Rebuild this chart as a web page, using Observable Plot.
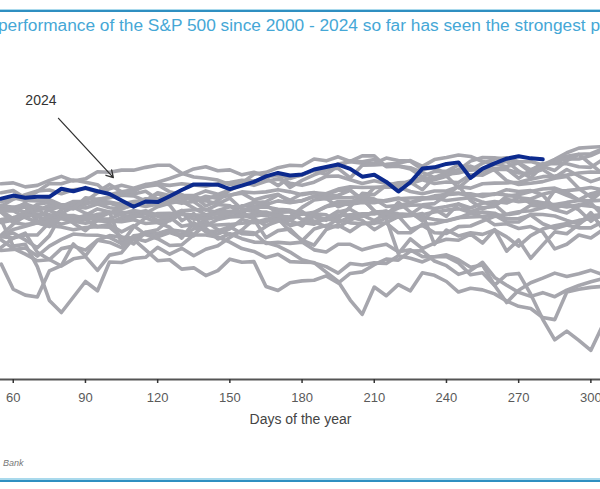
<!DOCTYPE html>
<html>
<head>
<meta charset="utf-8">
<script src="https://cdn.jsdelivr.net/npm/d3@7"></script>
<script src="https://cdn.jsdelivr.net/npm/@observablehq/plot@0.6"></script>
<style>
  html, body { margin: 0; padding: 0; background: #fff; }
  #page { position: relative; width: 600px; height: 489px; overflow: hidden; background: #fff; font-family: "Liberation Sans", Arial, sans-serif; }
  #ruleTop1 { position: absolute; left: 0; top: 9px; width: 600px; height: 1px; background: #a9d9ec; }
  #ruleTop2 { position: absolute; left: 0; top: 10px; width: 600px; height: 2px; background: #2f8fc1; }
  #title { position: absolute; left: -2px; top: 17px; white-space: nowrap; font-size: 17.3px; line-height: 17.3px; color: #45a7d6; }
  #chart { position: absolute; left: 0; top: 40px; }
  #source { position: absolute; left: 3px; top: 459px; font-size: 9px; font-style: italic; color: #777; line-height: 9px; }
  #ruleBot1 { position: absolute; left: 0; top: 478px; width: 600px; height: 2px; background: #a9d9ec; }
  #ruleBot2 { position: absolute; left: 0; top: 480px; width: 600px; height: 2px; background: #2f8fc1; }
</style>
</head>
<body>
<div id="page">
  <div id="ruleTop1"></div>
  <div id="ruleTop2"></div>
  <div id="title">performance of the S&amp;P 500 since 2000 - 2024 so far has seen the strongest p</div>
  <div id="chart"></div>
  <div id="source">Bank</div>
  <div id="ruleBot1"></div>
  <div id="ruleBot2"></div>
</div>
<script>
// Day of the year (sampled every 5 days)
const days = [55,60,65,70,75,80,85,90,95,100,105,110,115,120,125,130,135,140,145,150,155,160,165,170,175,180,185,190,195,200,205,210,215,220,225,230,235,240,245,250,255,260,265,270,275,280,285,290,295,300,305];
const xTicks = [60,90,120,150,180,210,240,270,300];
const xDomain = [54.7, 304];
const yDomain = [-51.6, 57.7];
const years = [2000,2001,2002,2003,2004,2005,2006,2007,2008,2009,2010,2011,2012,2013,2014,2015,2016,2017,2018,2019,2020,2021,2022,2023];

// YTD performance (%) per year
const y2000 = [-9,-6,-5,-5,-1,2,4,2,1,2.4,-7.7,-2.4,0.5,-1,-2.5,-6,-1,-4,-4.7,-3,0,-1,0,1,-2,-1,-1.5,0.4,2.7,0.8,-0.3,-3.3,-1,0.9,1.5,1.5,2.4,3,3.5,2.2,0.8,-1.7,-1.4,-2.9,-2.3,-4,-9.5,-8,-5,-6,-3.3];
const y2001 = [-5.6,-6,-4.4,-10.6,-12.9,-15,-12.7,-12,-16.4,-11.5,-10.7,-6,-7,-5.4,-4,-4.9,-5.3,-0.6,-3.3,-5,-4,-4.3,-7.7,-7.4,-7.7,-7.3,-9.8,-10.5,-8,-8,-9.8,-8.7,-8,-10.4,-9.8,-12,-12,-12,-14,-17.8,-17.2,-21.3,-26.8,-22.8,-20.4,-18.9,-17.3,-18.4,-17.5,-16.4,-17.8];
const y2002 = [-5,-1.5,1.2,1.7,1.5,0.4,-0.9,0,-2.3,-1.6,-4,-2,-4.9,-6.2,-8.4,-8.2,-5,-5,-5.7,-7.3,-9.4,-10.3,-12.3,-11.2,-13.6,-13.8,-13.9,-17,-20,-26,-30.6,-21.8,-24.6,-21,-23,-17.2,-18,-20,-23.4,-22.2,-22.7,-24,-26.3,-28,-28.7,-31.6,-32.3,-23.4,-22.5,-21.9,-21.6];
const y2003 = [-5.3,-4.4,-6.6,-9.1,-5.3,1.7,-1.2,-3.6,-0.2,-1,0.6,1.4,2,4.1,5.2,6,7.5,4.4,6,9.5,12,11,12.3,13,11.7,11,12,13.9,14,12.8,11.6,12.5,11.6,11,12.5,13.5,12.8,13.9,16.2,17.2,15.7,16.5,16.3,13.3,15.9,18,18,18,17,16.8,19.3];
const y2004 = [2.5,3.9,4,-0.5,-0.2,-1.5,-0.4,1.3,3.4,2.4,1.5,0.5,2.2,-0.4,0.8,-2.2,-1.5,-2,0,0.8,1,1.7,1.2,2.2,2.7,2.2,1.2,0,-0.1,-1.1,-1.4,-1,-1.2,-4.3,-4.3,-1.5,-1.4,-0.4,0.6,0.8,1,1.4,-0.8,-0.8,1.7,1.6,1.1,-0.3,-1.5,1.2,1.6];
const y2005 = [-1,-0.2,0.8,-1,-2,-2.4,-3.3,-2.6,-2.3,-2.5,-5.7,-6.1,-4.1,-4.5,-3.3,-3.8,-4.8,-1.8,-1.8,-1.6,-1.2,-1,-0.7,0.3,-1.7,-1,-0.6,0,1.2,1.5,1.8,1.8,2.7,0.9,1.6,0.7,0,-0.5,0.5,2,2.4,2,0.2,0.3,1.4,-1.4,-2.9,-1.8,-2.7,-2.7,-0.7];
const y2006 = [3.3,3.5,2.2,2.7,4.6,3.9,4.3,3.7,5,3.8,3.3,5,4.2,5,6.2,5.9,3.7,1.5,1.9,1,1.4,0.3,-2,-0.6,-0.2,1.9,1.8,1.5,-1,0.9,1,2.4,2.6,1.8,1.6,4.3,3.5,4.2,5,3.7,5.2,5.8,5.3,7,6.6,8.1,9.1,9.3,9.7,10.3,9.5];
const y2007 = [2.3,-1,-1.6,-1.1,-2.3,1.2,1.3,0.2,1.7,2.1,3.5,4.6,5.4,4.5,6.1,5.2,5.8,7.5,6.8,7.9,8.5,6.3,7.3,8.1,5.6,6,7.5,8,9.4,9.5,6.5,2.8,1.1,5.6,2.4,-0.5,3.3,1,5,2.5,3.8,4.2,7.5,8,9,9.8,10.1,8.7,6.3,8.3,9.2];
const y2008 = [-6.6,-9.3,-11.2,-13.3,-13,-9.4,-8.6,-9.9,-6.7,-7.4,-9.1,-5.3,-4.8,-5.6,-4.2,-5.5,-3,-2.9,-6.3,-4.6,-6.2,-7.3,-7.4,-8.6,-10.5,-13,-14,-15.2,-17.3,-14.2,-14.7,-14,-14.2,-11.7,-12.5,-13.7,-12,-11.4,-13,-15.4,-14.7,-21.2,-17.8,-17.4,-24.1,-32.2,-38.8,-36,-39,-42.2,-34];
const y2009 = [-14.4,-22.5,-24.4,-25,-16.6,-14.9,-7.9,-11.7,-6.7,-5.2,-5.7,-7.9,-4.1,-3.3,0,2.9,-2.3,0,0.8,1.8,4.4,4.3,4.7,2,-0.3,2.6,-0.8,-2.3,0.2,4.1,8.4,8,11,11.8,12,9.6,13.6,14,10.2,13.5,15.4,18,18.7,15.6,13.5,17.2,19.2,20.4,21,17.8,14.7];
const y2010 = [-0.9,0,2.1,3.1,3.9,4,4.7,4.9,6.5,7.1,8.6,8.2,9.1,6.5,4.6,-0.4,1.9,-3.9,-3.7,-2.3,-4.6,-4.8,-2.3,0.2,-3.8,-6.7,-8.3,-3.3,-1.8,-3.9,-1.2,-1.3,0.5,1.1,-3.2,-1.9,-4.3,-4.5,-2.3,-2.1,-0.5,1,1.7,2.5,2.8,3.8,4.8,5.5,6.1,6,6.2];
const y2011 = [3.8,3.8,5,3.7,-0.2,3.2,4.5,5.4,5.9,5.6,4.9,5.8,6.1,8.4,6.1,7.9,6.4,6,5,6.9,3.3,2.5,2.4,1.1,0.8,3.9,6.3,6.8,4.1,5.5,6.9,2.7,0.2,-11,-6.3,-9.4,-7.6,-6.4,-6.7,-4.7,-7.6,-3.3,-10.2,-6.6,-12.5,-8.2,-4,-4.6,-1.6,2.2,-3.1];
const y2012 = [8.6,9.3,6.9,9,11.6,11.5,12.7,12,11.2,8,8.9,9.6,10.6,11.2,8.9,7.9,5.8,3,4.8,4.4,1.7,5.4,5.7,7.9,6.2,8.3,8.7,7.5,7.8,9.4,6.4,10.2,10.6,11.5,11.6,12.8,11.6,12.1,11.9,14.4,14.3,16.2,16.1,15,14.9,16.1,13.6,16.1,14,12.2,13.5];
const y2013 = [4.3,6.5,8,9.2,9.5,8.3,9.6,10,8.9,11.3,8.9,9,11.1,12,13.2,14.6,16.3,17,15.7,16,14.4,15.2,14,14.2,10.3,12.6,14.4,15.8,17.9,18.6,18.1,18.1,19.8,19,18.8,16.1,16.7,14.6,15,16,18.1,19.5,19.9,18.6,18.7,17.6,19.4,21.5,23,23.3,23.5];
const y2014 = [0,0.6,1.6,1,-0.4,1,0.2,1.3,0.9,-0.8,-0.3,1.2,0.8,1.9,2,1.6,1.2,1.3,2.9,4.1,4.2,5.6,4.8,6,5.4,6.1,7.4,6.7,7,7,7.6,6.6,4.2,4.5,5.3,6.6,7.6,8,8.3,8.3,7.4,8.3,7.9,7.2,5.3,4.7,3.1,2.1,4.3,6.1,9.2];
const y2015 = [2.7,2.8,0.6,-0.9,1.1,2.4,-0.1,0.4,0.4,2.1,2.3,2,2.8,1.3,1.5,2.8,3.1,3.2,2.2,2.3,1.8,1,1.7,2.5,2.4,-0.1,0.9,-0.3,2.4,3.3,1,2.4,1.9,0.9,1.2,1.9,-8,-3.4,-5.3,-4.3,-4.8,-3.4,-5.6,-8.6,-5.2,-3.1,-2,-1.3,-0.3,0.3,1];
const y2016 = [-5.6,-3.2,-2.2,-1.1,-0.8,0.3,-0.4,0.8,0.1,0.2,1.8,2.9,2.2,1,0.3,2,0.1,0.4,2.3,2.6,2.7,3.5,1.5,1.3,-0.3,-2.1,2.2,4.2,5.8,5.8,6.4,6.3,5.9,6.7,6.9,7,6.9,6.1,6.6,7,5.6,4.6,6.5,5.7,6.1,5.4,4.7,4,4.7,4.3,3.3];
const y2017 = [5.7,7,6.1,6,6.4,4.7,4.7,5.5,5.1,5.3,4,5.2,6.7,6.5,7.2,7.2,7.3,6.4,7.9,7.7,8.9,8.6,8.9,9.6,8.9,8,8.6,8.3,9.8,10.5,10.3,10.4,10.4,10.5,9,8.3,9.2,9.2,10.6,10.1,11.5,11.7,11.8,12,13,13.8,14,14.3,15,15.3,15.2];
const y2018 = [2.7,0.2,2,4.2,2.9,1.4,-0.6,-1.2,-0.4,-0.6,-0.7,-0.1,-1.3,-1,-0.4,1.8,1.4,1.5,1.8,1.9,2.7,3.9,4,3.3,3,1.7,2.3,4.1,4.8,4.9,5.5,5.4,6.2,6.9,5.5,6.6,6.8,8.4,8.5,7.4,8.1,8.1,9.6,9,9.3,7.9,3.5,5.1,3.1,-0.6,2.5];
const y2019 = [11.5,11.8,10.5,11,12.6,13.9,12.4,13.1,15.4,15.2,15.9,15.9,16.8,17.5,17.5,14.9,13.7,13.3,12.7,11.2,11.8,14.6,15.2,16.7,17.5,17.3,19.5,18.9,20.2,18.7,20.5,20.5,17,17.2,16.7,15.2,13.5,15.2,15.9,18.8,20,19.9,19.3,18.1,15.2,17.2,18.5,19.6,19.5,20.6,22.3];
const y2020 = [-0.2,-8.6,-8,-15.2,-26.1,-30,-25,-20,-23,-13.7,-13.9,-12.6,-12.2,-9,-11.2,-9.3,-11.7,-9.6,-8.5,-5.8,-3.4,0,-5.9,-3.6,-3.1,-6.9,-3.1,-1.9,-2.4,-0.2,1.4,-0.4,2,3.7,4.6,4.7,5.1,7.8,10.8,6.1,3.4,4.8,1.5,2.1,4.6,4,9.4,7.8,6.3,5.3,1.2];
const y2021 = [4.5,3.9,2.3,4.9,5.5,4.2,5.8,5.8,8.6,9.9,11,10.1,11.3,11.3,11,11.5,11.1,10.7,11.5,11.9,12.6,12.4,13.3,10.9,13.6,14.3,15.9,16.3,16.5,13.4,17.5,17.6,17.8,18.1,19,17.1,19.3,20,20.8,20.3,18.7,18,17,18.3,16,17.1,15.8,19,21,21.2,22.8];
const y2022 = [-10,-9.7,-9.2,-11.8,-8.6,-6.4,-4.7,-5,-5.1,-5.8,-7.8,-6.4,-9.8,-13.3,-13,-16,-15.6,-18.1,-16.5,-12.8,-13.8,-13.6,-21.6,-22.9,-20.4,-19.8,-19.6,-18.2,-20.5,-17.4,-16.9,-14.6,-12.8,-13.1,-10.2,-10.1,-13.4,-14.9,-17.7,-16.5,-13.8,-18.7,-21.2,-23.5,-24.8,-23.6,-24.9,-22.8,-21.3,-20.1,-19.1];
const y2023 = [3.4,2.9,5.4,0.6,3.1,4.2,3.4,7,6.5,7,7.8,7.6,6,8.6,7.7,7.7,7.7,9.2,8.1,9.5,11.3,12,13.9,14.3,13.2,14.5,15.8,14.5,17.3,18.9,18.6,19.3,17.2,17.2,16.3,13.8,15.5,15.5,17.6,15.9,16.2,15.9,12.5,11.3,11.7,12.2,13.3,13.9,10,7.2,10.3];
const y2024 = [6.7,7.7,7,7.3,7.3,9.9,9.1,10.2,9.1,8.2,6.1,4.1,5.8,5.6,7.5,9.5,11.3,11.3,11.2,9.8,10.9,12.1,13.9,15,14.2,14.5,16.1,16.9,17.7,16.3,13.8,14.4,12.1,9,12,16.4,16.8,17.9,18.4,13.4,16.4,18.1,19.6,20.4,19.7,19.4];

// Annotation: label and arrow (day, %)
const label2024 = [{day: 71.5, value: 38.4, text: "2024"}];
const arrow2024 = [{x1: 78.8, y1: 32.6, x2: 101.6, y2: 13.5}];

const greyArrays = [y2000,y2001,y2002,y2003,y2004,y2005,y2006,y2007,y2008,y2009,y2010,y2011,y2012,y2013,y2014,y2015,y2016,y2017,y2018,y2019,y2020,y2021,y2022,y2023];
const greyRows = years.flatMap((yr, i) => days.map((d, j) => ({year: yr, day: d, value: greyArrays[i][j]})));
const rows2024 = y2024.map((v, j) => ({day: days[j], value: v}));

const chart = Plot.plot({
  width: 600,
  height: 400,
  marginTop: 0,
  marginBottom: 61,
  marginLeft: 0,
  marginRight: 0,
  x: {domain: xDomain, label: null},
  y: {domain: yDomain, axis: null},
  style: {fontFamily: "'Liberation Sans', Arial, sans-serif", fontSize: "13px", color: "#555", background: "transparent"},
  marks: [
    Plot.line(greyRows, {x: "day", y: "value", z: "year", stroke: "#a6a6ad", strokeWidth: 3.6, strokeLinejoin: "round", clip: true}),
    Plot.line(rows2024, {x: "day", y: "value", stroke: "#0c2a8e", strokeWidth: 4, strokeLinejoin: "round", clip: true}),
    Plot.ruleY([yDomain[0]], {stroke: "#555", strokeWidth: 2}),
    Plot.axisX({ticks: xTicks, tickSize: 4, tickPadding: 9, stroke: "#333", strokeWidth: 1.5, fill: "#5a5a5a", fontSize: 13, label: null}),
    Plot.text(["Days of the year"], {frameAnchor: "bottom", dy: 40, fill: "#444", fontSize: 14, lineAnchor: "middle"}),
    Plot.text(label2024, {x: "day", y: "value", text: "text", fill: "#333", fontSize: 14, lineAnchor: "middle"}),
    Plot.arrow(arrow2024, {x1: "x1", y1: "y1", x2: "x2", y2: "y2", stroke: "#333", strokeWidth: 1.3, headLength: 9, bend: false})
  ]
});
document.getElementById("chart").appendChild(chart);
</script>
</body>
</html>
